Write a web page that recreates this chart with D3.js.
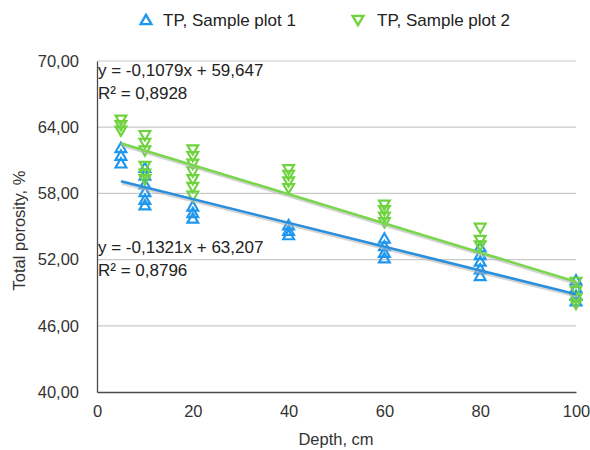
<!DOCTYPE html>
<html>
<head>
<meta charset="utf-8">
<script src="https://cdn.jsdelivr.net/npm/d3@7/dist/d3.min.js"></script>
<style>
  html, body { margin: 0; padding: 0; background: #fff; }
  svg { display: block; font-family: "Liberation Sans", Arial, Helvetica, sans-serif; }
</style>
</head>
<body>
<svg id="chart" width="590" height="450"></svg>
<script>
// Sampling depths (cm)
const depths = [5, 10, 20, 40, 60, 80, 100];

// Total porosity (%) per depth, sample plot 1
const plot1 = [
  [62.1, 61.4, 60.7],
  [60.3, 59.6, 58.8, 58.1, 57.4, 56.9],
  [56.8, 56.2, 55.7],
  [55.1, 54.6, 54.2],
  [53.9, 53.2, 52.6, 52.1],
  [53.1, 52.4, 51.8, 51.1, 50.5],
  [50.1, 49.4, 48.7, 48.2]
];

// Total porosity (%) per depth, sample plot 2
const plot2 = [
  [64.7, 64.2, 63.7],
  [63.3, 62.6, 61.9, 60.5, 59.8, 59.3],
  [62.0, 61.4, 60.7, 60.0, 59.3, 58.6, 57.8],
  [60.2, 59.7, 59.1, 58.5],
  [57.0, 56.5, 55.9, 55.4],
  [54.9, 53.8, 53.3],
  [50.0, 49.2, 48.5, 48.0]
];

// Linear trend coefficients [slope, intercept]
const trend1 = [-0.1079, 59.647];
const trend2 = [-0.1321, 63.207];

// Equation labels as printed on the chart
const eqLabels = [
  ["y = -0,1079x + 59,647", "R² = 0,8928"],
  ["y = -0,1321x + 63,207", "R² = 0,8796"]
];

const seriesNames = ["TP, Sample plot 1", "TP, Sample plot 2"];
const xTicks = [0, 20, 40, 60, 80, 100];
const yTicks = [40, 46, 52, 58, 64, 70];

const blue = "#1f97ee";
const green = "#6fd23f";
const blueLine = "#2b8fdc";
const greenLine = "#7ad64e";

const svg = d3.select("#chart");
const m = { left: 97, right: 576, top: 61, bottom: 392 };

const x = d3.scaleLinear().domain([0, 100]).range([m.left, m.right]);
const y = d3.scaleLinear().domain([40, 70]).range([m.bottom, m.top]);

const loc = d3.formatLocale({ decimal: ",", thousands: " ", grouping: [3], currency: ["", ""] });
const fmt = loc.format(".2f");

const fontSize = 16.5;

// Horizontal gridlines
svg.append("g")
  .selectAll("line")
  .data(yTicks.filter(d => d !== 40))
  .join("line")
  .attr("x1", m.left).attr("x2", m.right)
  .attr("y1", d => y(d)).attr("y2", d => y(d))
  .attr("stroke", "#c9c9c9").attr("stroke-width", 1.2);

// Y axis
const yAxis = svg.append("g")
  .attr("transform", `translate(${m.left},0)`)
  .call(d3.axisLeft(y).tickValues(yTicks).tickFormat(fmt).tickSize(0).tickPadding(18));
yAxis.select(".domain").attr("stroke", "#4a4a4a").attr("stroke-width", 1.3);
yAxis.selectAll("text").attr("font-size", fontSize).attr("fill", "#333")
  .attr("font-family", "'Liberation Sans', Arial, sans-serif");

// X axis
const xAxis = svg.append("g")
  .attr("transform", `translate(0,${m.bottom})`)
  .call(d3.axisBottom(x).tickValues(xTicks).tickSize(0).tickPadding(13));
xAxis.select(".domain").attr("stroke", "#4a4a4a").attr("stroke-width", 1.3);
xAxis.selectAll("text").attr("font-size", fontSize).attr("fill", "#333")
  .attr("font-family", "'Liberation Sans', Arial, sans-serif");

// Axis titles
svg.append("text")
  .attr("x", 336).attr("y", 445)
  .attr("text-anchor", "middle").attr("font-size", fontSize).attr("fill", "#333")
  .text("Depth, cm");
svg.append("text")
  .attr("transform", `translate(25,${(m.top + m.bottom) / 2 + 4}) rotate(-90)`)
  .attr("text-anchor", "middle").attr("font-size", fontSize).attr("fill", "#333")
  .text("Total porosity, %");

// Marker shapes
const triUp = d3.symbol().type(d3.symbolTriangle).size(50);
function markers(data, color, down) {
  const pts = [];
  data.forEach((vals, i) => vals.forEach(v => pts.push([depths[i], v])));
  svg.append("g")
    .selectAll("path")
    .data(pts)
    .join("path")
    .attr("d", triUp())
    .attr("transform", d => `translate(${x(d[0])},${y(d[1]) + (down ? -0.8 : 0.8)}) rotate(${down ? 180 : 0})`)
    .attr("fill", "none")
    .attr("stroke", color)
    .attr("stroke-width", 2.2);
}

markers(plot1, blue, false);
markers(plot2, green, true);

// Trend lines with soft shadow
function trendLine(coef, color) {
  const xs = [depths[0], depths[depths.length - 1]];
  const pts = xs.map(d => [x(d), y(coef[0] * d + coef[1])]);
  const line = d3.line();
  svg.append("path").attr("d", line(pts.map(p => [p[0] + 1, p[1] + 2])))
    .attr("stroke", "#b8b8b8").attr("stroke-width", 3).attr("fill", "none").attr("opacity", 0.6);
  svg.append("path").attr("d", line(pts))
    .attr("stroke", color).attr("stroke-width", 2.6).attr("fill", "none");
}
trendLine(trend1, blueLine);
trendLine(trend2, greenLine);

// Equation labels
const eqPos = [[98, 76], [98, 253]];
eqLabels.forEach((lines, i) => {
  lines.forEach((t, j) => {
    svg.append("text")
      .attr("x", eqPos[i][0]).attr("y", eqPos[i][1] + j * 22.5)
      .attr("font-size", 17).attr("fill", "#222")
      .text(t);
  });
});

// Legend
const legend = svg.append("g");
const legendItems = [
  { name: seriesNames[0], color: blue, down: false, sx: 146, tx: 163 },
  { name: seriesNames[1], color: green, down: true, sx: 358, tx: 377 }
];
legendItems.forEach(it => {
  legend.append("path")
    .attr("d", triUp())
    .attr("transform", `translate(${it.sx},${it.down ? 19 : 21}) rotate(${it.down ? 180 : 0})`)
    .attr("fill", "none").attr("stroke", it.color).attr("stroke-width", 2.4);
  legend.append("text")
    .attr("x", it.tx).attr("y", 26)
    .attr("font-size", 17).attr("fill", "#222")
    .text(it.name);
});
</script>
</body>
</html>
